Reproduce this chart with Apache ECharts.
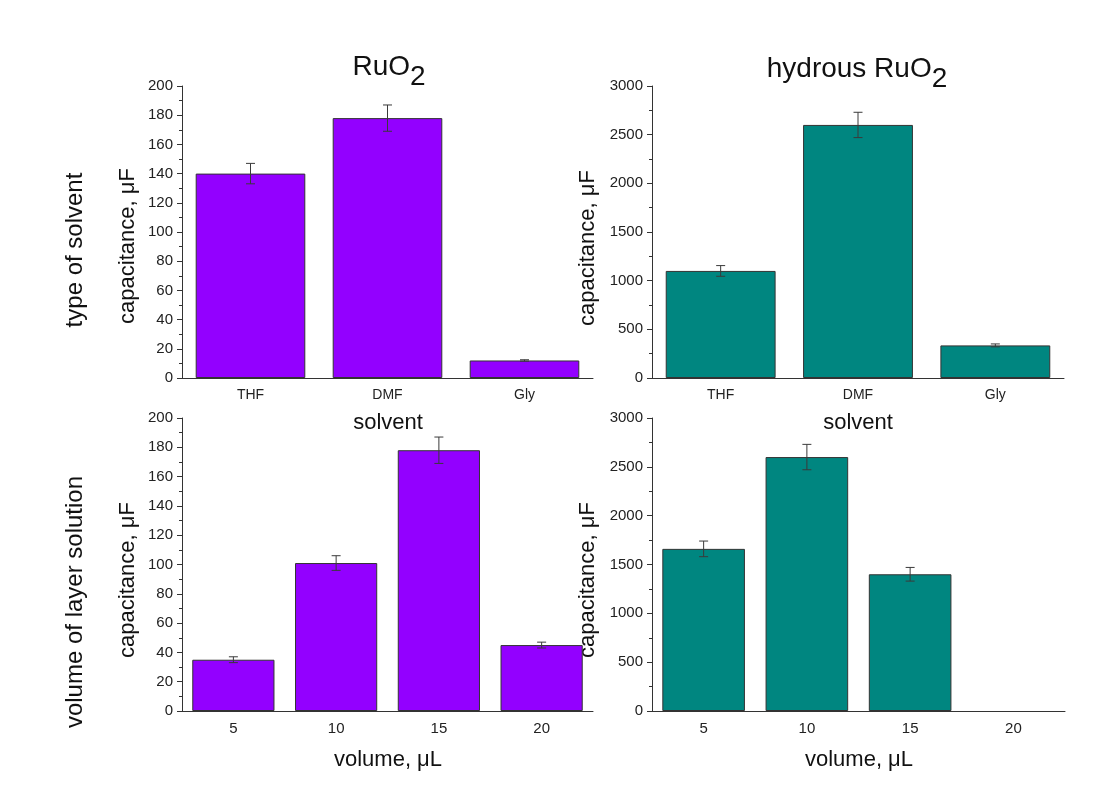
<!DOCTYPE html>
<html><head><meta charset="utf-8">
<script src="https://cdn.jsdelivr.net/npm/echarts@6/dist/echarts.min.js"></script>
<style>html,body{margin:0;padding:0;background:#fff}#c{width:1096px;height:787px}</style>
</head><body><div id="c"></div>
<script>
const solvents = ['THF', 'DMF', 'Gly'];
const volumes = ['5', '10', '15', '20'];
const ruo2Solvent = [140, 178, 12];
const ruo2SolventErr = [7, 9, 0.5];
const hydSolvent = [1100, 2600, 335];
const hydSolventErr = [55, 130, 15];
const ruo2Volume = [35, 101, 178, 45];
const ruo2VolumeErr = [2, 5, 9, 2];
const hydVolume = [1660, 2600, 1400, null];
const hydVolumeErr = [80, 130, 70, null];
const ruo2Ticks = { min: 0, max: 200, interval: 20 };
const hydTicks = { min: 0, max: 3000, interval: 500 };

const FONT = '"Liberation Sans", Arial, sans-serif';
const PURPLE = '#9300FF';
const TEAL = '#008680';
const AX = '#333';

const grids = [
  { left: 182, top: 86, width: 411, height: 292 },
  { left: 652, top: 86, width: 412, height: 292 },
  { left: 182, top: 418, width: 411, height: 293 },
  { left: 652, top: 418, width: 413, height: 293 }
];
const panels = [
  { cats: solvents, vals: ruo2Solvent, errs: ruo2SolventErr, ticks: ruo2Ticks, color: PURPLE },
  { cats: solvents, vals: hydSolvent, errs: hydSolventErr, ticks: hydTicks, color: TEAL },
  { cats: volumes, vals: ruo2Volume, errs: ruo2VolumeErr, ticks: ruo2Ticks, color: PURPLE },
  { cats: volumes, vals: hydVolume, errs: hydVolumeErr, ticks: hydTicks, color: TEAL }
];

const xAxis = [], yAxis = [], series = [];
panels.forEach((p, i) => {
  xAxis.push({
    type: 'category', gridIndex: i, data: p.cats, position: 'bottom',
    axisLine: { lineStyle: { color: AX, width: 1 } },
    axisTick: { alignWithLabel: true, length: 5, lineStyle: { color: AX } },
    axisLabel: { color: '#222', fontFamily: FONT, fontSize: i < 2 ? 14 : 15, margin: 10 },
    splitLine: { show: false }
  });
  xAxis.push({
    type: 'category', gridIndex: i, data: p.cats, position: 'bottom',
    axisLine: { show: false },
    axisTick: { length: 3, lineStyle: { color: AX } },
    axisLabel: { show: false }, splitLine: { show: false }
  });
  yAxis.push({
    type: 'value', gridIndex: i, min: p.ticks.min, max: p.ticks.max, interval: p.ticks.interval,
    axisLine: { show: true, lineStyle: { color: AX, width: 1 } },
    axisTick: { show: true, length: 5, lineStyle: { color: AX } },
    minorTick: { show: true, splitNumber: 2, length: 3, lineStyle: { color: AX } },
    axisLabel: { color: '#222', fontFamily: FONT, fontSize: 15, margin: 9, formatter: function (v) { return String(v); } },
    splitLine: { show: false }
  });
  series.push({
    type: 'bar', xAxisIndex: 2 * i, yAxisIndex: i, data: p.vals,
    barCategoryGap: '20%',
    itemStyle: { color: p.color, borderColor: '#333', borderWidth: 1 },
    silent: true
  });
  const errData = p.vals.map((v, k) => (v == null ? [k, null, null] : [k, v - p.errs[k], v + p.errs[k]]));
  series.push({
    type: 'custom', xAxisIndex: 2 * i, yAxisIndex: i, data: errData, z: 5, silent: true,
    renderItem: function (params, api) {
      const lo = api.value(1), hi = api.value(2);
      if (lo == null || isNaN(lo)) return null;
      const a = api.coord([api.value(0), hi]);
      const b = api.coord([api.value(0), lo]);
      const w = 4.5;
      const st = { stroke: '#3a3a3a', lineWidth: 1 };
      return {
        type: 'group', children: [
          { type: 'line', shape: { x1: a[0], y1: a[1], x2: b[0], y2: b[1] }, style: st },
          { type: 'line', shape: { x1: a[0] - w, y1: a[1], x2: a[0] + w, y2: a[1] }, style: st },
          { type: 'line', shape: { x1: b[0] - w, y1: b[1], x2: b[0] + w, y2: b[1] }, style: st }
        ]
      };
    }
  });
});

function txt(x, y, text, size, rot) {
  return {
    type: 'text', x: x, y: y, rotation: rot ? Math.PI / 2 : 0,
    style: { text: text, fontFamily: FONT, fontSize: size, fill: '#111', align: 'center', verticalAlign: 'middle' }
  };
}
function sub(x, y, main) {
  return {
    type: 'text', x: x, y: y,
    style: {
      text: '{a|' + main + '}{b|2}', align: 'center', verticalAlign: 'middle',
      rich: {
        a: { fontFamily: FONT, fontSize: 28, fill: '#111', color: '#111' },
        b: { fontFamily: FONT, fontSize: 28, fill: '#111', color: '#111', padding: [20, 0, 0, 0] }
      }
    }
  };
}

const graphic = [
  sub(389, 67, 'RuO'),
  sub(857, 69, 'hydrous RuO'),
  txt(388, 423, 'solvent', 22),
  txt(858, 423, 'solvent', 22),
  txt(388, 760, 'volume, \u03bcL', 22),
  txt(859, 760, 'volume, \u03bcL', 22),
  txt(128, 246, 'capacitance, \u03bcF', 22, true),
  txt(588, 248, 'capacitance, \u03bcF', 22, true),
  txt(128, 580, 'capacitance, \u03bcF', 22, true),
  txt(588, 580, 'capacitance, \u03bcF', 22, true),
  txt(75, 250, 'type of solvent', 24, true),
  txt(75, 602, 'volume of layer solution', 24, true)
];

const chart = echarts.init(document.getElementById('c'), null, { renderer: 'canvas' });
chart.setOption({
  animation: false,
  backgroundColor: '#fff',
  grid: grids,
  xAxis: xAxis,
  yAxis: yAxis,
  series: series,
  graphic: graphic
});
</script></body></html>
